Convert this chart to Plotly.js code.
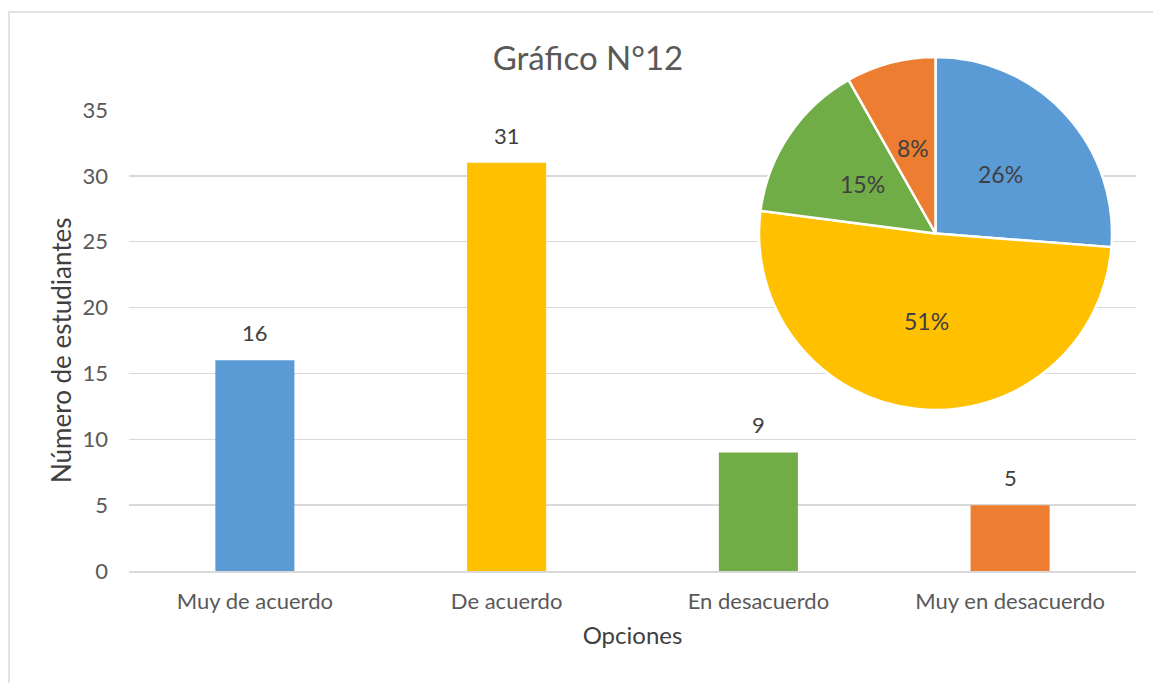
<!DOCTYPE html>
<html>
<head>
<meta charset="utf-8">
<script src="https://cdn.plot.ly/plotly-3.0.1.min.js"></script>
<style>html,body{margin:0;padding:0;background:#fff;}#chart{width:1153px;height:683px;}</style>
</head>
<body>
<div id="chart"></div>
<script>
const categories = ["Muy de acuerdo", "De acuerdo", "En desacuerdo", "Muy en desacuerdo"];
const values = [16, 31, 9, 5];
const colors = ["#5B9BD5", "#FFC000", "#70AD47", "#ED7D31"];
const yTicks = [0, 5, 10, 15, 20, 25, 30, 35];

const W = 1153, H = 683;
const FONT = "Lato, 'Noto Sans', sans-serif";

const pieDomX = [759 / W, 1112 / W];
const pieDomY = [(H - 410) / H, (H - 57) / H];

const bar = {
  type: "bar",
  x: categories,
  y: values,
  marker: {color: colors},
  hoverinfo: "x+y",
  showlegend: false,
  xaxis: "x", yaxis: "y"
};

const pie = {
  type: "pie",
  labels: categories,
  values: values,
  marker: {colors: colors, line: {color: "#FFFFFF", width: 2.5}},
  sort: false,
  direction: "clockwise",
  rotation: 0,
  textinfo: "none",
  showlegend: false,
  domain: {x: pieDomX, y: pieDomY}
};

// value labels above bars
const annotations = categories.map((c, i) => ({
  x: c, y: values[i], xref: "x", yref: "y",
  text: String(values[i]), showarrow: false,
  yanchor: "bottom", yshift: 12,
  font: {family: FONT, size: 22, color: "#404040"}
}));

// percentage labels on the pie, placed at half radius along each slice's mid-angle
const total = values.reduce((a, b) => a + b, 0);
const cxPx = (pieDomX[0] + pieDomX[1]) / 2 * W;
const cyPx = (pieDomY[0] + pieDomY[1]) / 2 * H;
const rPx = Math.min((pieDomX[1] - pieDomX[0]) * W, (pieDomY[1] - pieDomY[0]) * H) / 2;
let cum = 0;
values.forEach((v) => {
  const mid = (cum + v / 2) / total * 2 * Math.PI;
  cum += v;
  const px = cxPx + 0.5 * rPx * Math.sin(mid);
  const py = cyPx + 0.5 * rPx * Math.cos(mid);
  annotations.push({
    x: px / W, y: py / H, xref: "paper", yref: "paper",
    xanchor: "center", yanchor: "middle",
    text: Math.round(v / total * 100) + "%", showarrow: false,
    font: {family: FONT, size: 23, color: "#404040"}
  });
});

// y axis title
annotations.push({
  x: 61 / W, y: (H - 350) / H, xref: "paper", yref: "paper",
  xanchor: "center", yanchor: "middle", textangle: -90,
  text: "Número de estudiantes", showarrow: false,
  font: {family: FONT, size: 26, color: "#404040"}
});

const layout = {
  width: W, height: H,
  margin: {l: 0, r: 0, t: 0, b: 0},
  paper_bgcolor: "#FFFFFF",
  plot_bgcolor: "rgba(0,0,0,0)",
  font: {family: FONT, color: "#595959"},
  title: {
    text: "Gráfico N°12",
    x: 588 / W, xref: "paper", xanchor: "center",
    y: 1 - 58 / H, yref: "paper", yanchor: "middle",
    font: {family: FONT, size: 33, color: "#595959"}
  },
  bargap: 0.686,
  xaxis: {
    domain: [129 / W, 1136 / W],
    tickfont: {family: FONT, size: 22, color: "#595959"},
    ticklabelstandoff: 10,
    showgrid: false,
    showline: true, linecolor: "#D9D9D9", linewidth: 1.5,
    zeroline: false,
    title: {text: "Opciones", font: {family: FONT, size: 24, color: "#404040"}, standoff: 14},
    fixedrange: true
  },
  yaxis: {
    domain: [(H - 571) / H, (H - 110) / H],
    range: [0, 35],
    tickvals: yTicks,
    tickfont: {family: FONT, size: 22, color: "#595959"},
    ticklabelstandoff: 20,
    showgrid: true, gridcolor: "#D9D9D9", gridwidth: 1.5,
    zeroline: false, showline: false,
    fixedrange: true
  },
  annotations: annotations,
  shapes: [{
    type: "rect", xref: "paper", yref: "paper",
    x0: 9 / W, x1: 1.02, y0: -0.02, y1: 1 - 12 / H,
    line: {color: "#D9D9D9", width: 1.5}, fillcolor: "rgba(0,0,0,0)", layer: "below"
  }]
};

Plotly.newPlot("chart", [bar, pie], layout, {displayModeBar: false, staticPlot: true});
</script>
</body>
</html>
